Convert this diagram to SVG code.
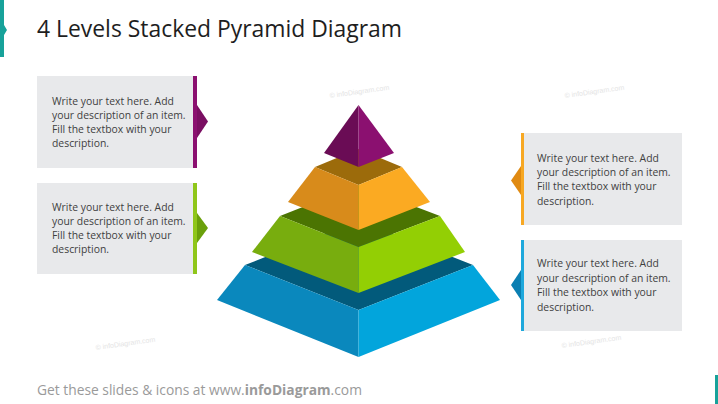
<svg xmlns="http://www.w3.org/2000/svg" width="718" height="404" viewBox="0 0 718 404">
<style>
.box{fill:#e8e9eb}
.txt{font-family:"Open Sans","Liberation Sans",sans-serif;font-size:10.4px;fill:#3f3f3f}
.wm{font-family:"Liberation Sans",sans-serif;font-size:7px;fill:#e4e4e4}
</style>
<rect width="718" height="404" fill="#ffffff"/>
<g id="decor">
<rect x="0" y="0" width="4" height="57" fill="#17a29a"/>
<polygon points="4,25 7,30 4,35" fill="#17a29a"/>
<rect x="715" y="375" width="3" height="29" fill="#17a29a"/>
</g>
<text x="37" y="37" font-family="Open Sans, Liberation Sans, sans-serif" font-size="22.9" fill="#1e1e1e">4 Levels Stacked Pyramid Diagram</text>
<g id="watermarks">
<text class="wm" x="330" y="98" transform="rotate(-8 330 98)">© infoDiagram.com</text>
<text class="wm" x="565" y="98" transform="rotate(-8 565 98)">© infoDiagram.com</text>
<text class="wm" x="96" y="350" transform="rotate(-8 96 350)">© infoDiagram.com</text>
<text class="wm" x="562" y="348" transform="rotate(-8 562 348)">© infoDiagram.com</text>
</g>
<g id="pyramid">
<g id="tier4-blue">
<polygon points="245,265 358.5,220 473,265 358.5,310" fill="#025a7b"/>
<polygon points="245,265 358.5,310 358.5,357 217,300" fill="#0a88bd"/>
<polygon points="358.5,310 473,265 500,300 358.5,357" fill="#02a5dc"/>
</g>
<g id="tier3-green">
<polygon points="280,216 358.5,185 440,216 358.5,247" fill="#4b7402"/>
<polygon points="280,216 358.5,247 358.5,293 252,252" fill="#78ad0e"/>
<polygon points="358.5,247 440,216 465,252 358.5,293" fill="#93cf04"/>
</g>
<g id="tier2-orange">
<polygon points="315,167 358.5,149 402,167 358.5,185" fill="#9c6b0b"/>
<polygon points="315,167 358.5,185 358.5,230 288,202" fill="#d88b1b"/>
<polygon points="358.5,185 402,167 430,202 358.5,230" fill="#fbaa22"/>
</g>
<g id="tier1-purple">
<polygon points="358.5,105 324,153 358.5,167" fill="#6a0c55"/>
<polygon points="358.5,105 358.5,167 394,153" fill="#8b1070"/>
</g>
</g>
<g id="connectors">
<polygon points="197,105 208,121.5 197,138" fill="#7a0e62"/>
<polygon points="197,213 208,228 197,243" fill="#6aa00b"/>
<polygon points="521,166 511,180.5 521,195" fill="#e08a12"/>
<polygon points="521,270 511,285 521,300" fill="#0b7fb2"/>
</g>
<g id="box1">
<rect class="box" x="37" y="76" width="156" height="92"/>
<rect x="193" y="76" width="4" height="92" fill="#8b1070"/>
<text class="txt"><tspan x="52" y="104.5">Write your text here. Add</tspan><tspan x="52" y="118.5">your description of an item.</tspan><tspan x="52" y="132.5">Fill the textbox with your</tspan><tspan x="52" y="146.5">description.</tspan></text>
</g>
<g id="box2">
<rect class="box" x="37" y="183" width="156" height="91"/>
<rect x="193" y="183" width="4" height="91" fill="#8fc61a"/>
<text class="txt"><tspan x="52" y="210.5">Write your text here. Add</tspan><tspan x="52" y="224.5">your description of an item.</tspan><tspan x="52" y="238.5">Fill the textbox with your</tspan><tspan x="52" y="252.5">description.</tspan></text>
</g>
<g id="box3">
<rect class="box" x="524" y="133" width="158" height="92"/>
<rect x="521" y="133" width="3" height="92" fill="#f7a823"/>
<text class="txt"><tspan x="537" y="162">Write your text here. Add</tspan><tspan x="537" y="176">your description of an item.</tspan><tspan x="537" y="190">Fill the textbox with your</tspan><tspan x="537" y="204.5">description.</tspan></text>
</g>
<g id="box4">
<rect class="box" x="524" y="240" width="158" height="91"/>
<rect x="521" y="240" width="3" height="91" fill="#1ea8dc"/>
<text class="txt"><tspan x="537" y="267">Write your text here. Add</tspan><tspan x="537" y="281.5">your description of an item.</tspan><tspan x="537" y="296">Fill the textbox with your</tspan><tspan x="537" y="310.5">description.</tspan></text>
</g>
<text x="37" y="395" font-family="Open Sans, Liberation Sans, sans-serif" font-size="13.8" fill="#9a9a9a">Get these slides &amp; icons at www.<tspan font-weight="bold">infoDiagram</tspan>.com</text>
</svg>
